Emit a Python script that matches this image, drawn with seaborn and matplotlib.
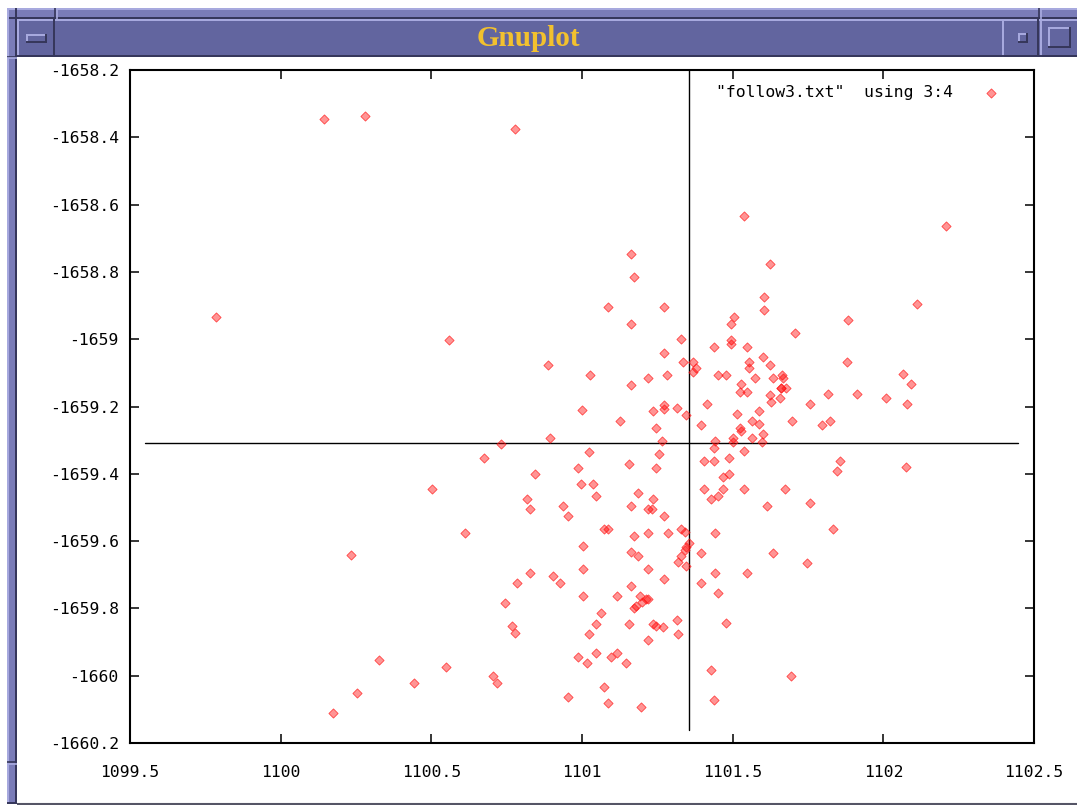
import matplotlib
matplotlib.use("Agg")
import matplotlib.pyplot as plt
from matplotlib.patches import Rectangle
import pandas as pd
import seaborn as sns

# Columns 3 and 4 of follow3.txt
col3 = [
    1100.144, 1100.280, 1100.778, 1099.785, 1100.559, 1100.887, 1101.027, 1101.000,
    1100.894, 1100.731, 1100.233, 1102.208, 1101.538, 1101.624, 1102.112, 1101.883,
    1102.065, 1102.092, 1101.913, 1102.009, 1102.079, 1102.075, 1101.694, 1101.604,
    1101.604, 1101.504, 1101.494, 1101.707, 1101.163, 1101.173, 1101.086, 1101.272,
    1101.163, 1101.329,
    1101.272, 1101.335, 1101.368, 1101.378, 1101.368, 1101.438, 1101.494, 1101.494,
    1101.548, 1101.601, 1101.554, 1101.554, 1101.624, 1101.879, 1101.451, 1101.478,
    1101.574, 1101.634, 1101.664, 1101.667, 1101.163, 1101.219, 1101.282, 1101.528,
    1101.524, 1101.548, 1101.660, 1101.660, 1101.677, 1101.624, 1101.627, 1101.657,
    1101.816, 1101.757, 1101.126, 1101.236, 1101.272, 1101.272, 1101.315, 1101.345,
    1101.415, 1101.246, 1101.395, 1101.514, 1101.587, 1101.564, 1101.587, 1101.524,
    1101.528, 1101.601, 1101.697, 1101.796, 1101.823, 1101.266, 1101.441, 1101.438,
    1101.501, 1101.501, 1101.564, 1101.597, 1101.256, 1101.156, 1101.246, 1101.405,
    1101.438, 1101.488, 1101.538, 1101.468, 1101.488, 1101.856, 1101.846,
    1100.675, 1101.023, 1100.844, 1100.987, 1100.502, 1100.997, 1101.037, 1101.046,
    1101.186, 1100.817, 1100.827, 1100.937, 1100.954, 1101.163, 1101.236, 1101.219,
    1101.232, 1101.272, 1101.405, 1101.428, 1101.451, 1101.468, 1100.612, 1101.073,
    1101.086, 1101.173, 1101.219, 1101.285, 1101.329, 1101.342, 1101.441, 1101.003,
    1101.163, 1101.186, 1101.355, 1101.345, 1101.342, 1101.395, 1101.329, 1101.319,
    1101.345, 1101.003, 1101.219, 1100.827, 1100.784, 1100.904, 1100.927, 1101.272,
    1101.441, 1101.395, 1101.163, 1101.451, 1100.744, 1101.003, 1101.116, 1101.192,
    1101.219, 1101.212, 1101.199, 1101.179, 1101.173, 1101.063, 1101.046, 1101.156,
    1101.236, 1101.246, 1101.269, 1101.315, 1101.319, 1101.023, 1101.219, 1100.768,
    1100.778,
    1101.538, 1101.674, 1101.614, 1101.757, 1101.833, 1101.634, 1101.747, 1101.548,
    1100.326, 1100.549, 1100.442, 1100.253, 1100.174, 1100.705, 1100.718, 1100.954,
    1100.987,
    1101.017, 1101.046, 1101.096, 1101.116, 1101.146, 1101.073, 1101.086, 1101.196,
    1101.428, 1101.438, 1101.478,
]
col4 = [
    -1658.346, -1658.337, -1658.375, -1658.934, -1659.002, -1659.077, -1659.106, -1659.210,
    -1659.294, -1659.311, -1659.641, -1658.664, -1658.634, -1658.777, -1658.895, -1658.943,
    -1659.103, -1659.133, -1659.163, -1659.175, -1659.193, -1659.380, -1660.001, -1658.875,
    -1658.913, -1658.934, -1658.955, -1658.982, -1658.747, -1658.815, -1658.904, -1658.904,
    -1658.955, -1658.999,
    -1659.041, -1659.068, -1659.068, -1659.086, -1659.098, -1659.023, -1659.002, -1659.014,
    -1659.023, -1659.053, -1659.068, -1659.086, -1659.077, -1659.068, -1659.106, -1659.106,
    -1659.115, -1659.115, -1659.106, -1659.115, -1659.136, -1659.115, -1659.106, -1659.133,
    -1659.157, -1659.157, -1659.145, -1659.145, -1659.145, -1659.166, -1659.187, -1659.175,
    -1659.163, -1659.193, -1659.243, -1659.213, -1659.196, -1659.207, -1659.204, -1659.225,
    -1659.193, -1659.264, -1659.255, -1659.222, -1659.213, -1659.243, -1659.252, -1659.264,
    -1659.273, -1659.282, -1659.243, -1659.255, -1659.243, -1659.303, -1659.303, -1659.323,
    -1659.294, -1659.306, -1659.294, -1659.306, -1659.341, -1659.371, -1659.383, -1659.362,
    -1659.362, -1659.353, -1659.332, -1659.410, -1659.401, -1659.362, -1659.392,
    -1659.353, -1659.335, -1659.401, -1659.383, -1659.445, -1659.430, -1659.430, -1659.466,
    -1659.457, -1659.475, -1659.505, -1659.496, -1659.525, -1659.496, -1659.475, -1659.505,
    -1659.505, -1659.525, -1659.445, -1659.475, -1659.466, -1659.445, -1659.576, -1659.564,
    -1659.564, -1659.585, -1659.576, -1659.576, -1659.564, -1659.573, -1659.576, -1659.615,
    -1659.632, -1659.644, -1659.606, -1659.618, -1659.626, -1659.635, -1659.644, -1659.662,
    -1659.674, -1659.683, -1659.683, -1659.695, -1659.725, -1659.704, -1659.725, -1659.713,
    -1659.695, -1659.725, -1659.733, -1659.754, -1659.784, -1659.763, -1659.763, -1659.763,
    -1659.772, -1659.772, -1659.781, -1659.793, -1659.799, -1659.814, -1659.846, -1659.846,
    -1659.846, -1659.852, -1659.855, -1659.835, -1659.876, -1659.876, -1659.894, -1659.852,
    -1659.873,
    -1659.445, -1659.445, -1659.496, -1659.487, -1659.564, -1659.635, -1659.665, -1659.695,
    -1659.953, -1659.974, -1660.022, -1660.051, -1660.111, -1660.001, -1660.022, -1660.063,
    -1659.944,
    -1659.962, -1659.933, -1659.944, -1659.933, -1659.962, -1660.034, -1660.081, -1660.093,
    -1659.983, -1660.072, -1659.843,
]

x_ticks = [1099.5, 1100, 1100.5, 1101, 1101.5, 1102, 1102.5]
y_ticks = [-1658.2, -1658.4, -1658.6, -1658.8, -1659, -1659.2, -1659.4,
           -1659.6, -1659.8, -1660, -1660.2]
x_range = (1099.5, 1102.5)
y_range = (-1660.2, -1658.2)

# ruler cross drawn over the data
ruler_x = 1101.355
ruler_y = -1659.3085
ruler_x_span = (1099.55, 1102.447)
ruler_y_span = (-1660.161, -1658.2)

series_label = '"follow3.txt"  using 3:4'
window_title = "Gnuplot"

W, H = 1077, 805
sns.set_theme(style="white")
plt.rcParams["font.family"] = ["DejaVu Sans Mono"]
plt.rcParams["axes.unicode_minus"] = False

fig = plt.figure(figsize=(W / 100, H / 100), dpi=100)
fig.patch.set_facecolor("white")

# ---- window decoration (pixel coordinates, y downwards) ----
deco = fig.add_axes([0, 0, 1, 1], zorder=-5)
deco.set_xlim(0, W)
deco.set_ylim(H, 0)
deco.axis("off")

TB = "#62659f"
MID = "#7a7cb8"
LIGHT = "#a9abe0"
DARK = "#35365a"


def box(x0, y0, x1, y1, fc, ec="none", lw=0):
    deco.add_patch(Rectangle((x0, y0), x1 - x0, y1 - y0, facecolor=fc,
                             edgecolor=ec, linewidth=lw))


def hline(y, x0, x1, c, lw=1.0):
    deco.plot([x0, x1], [y, y], color=c, lw=lw, solid_capstyle="butt")


def vline(x, y0, y1, c, lw=1.0):
    deco.plot([x, x], [y0, y1], color=c, lw=lw, solid_capstyle="butt")


def raised(x0, y0, x1, y1, fc):
    box(x0, y0, x1, y1, fc)
    hline(y0 + 1, x0, x1, LIGHT, 1.4)
    vline(x0 + 1, y0, y1, LIGHT, 1.4)
    hline(y1 - 1, x0, x1, DARK, 1.4)
    vline(x1 - 1, y0, y1, DARK, 1.4)


# outer frame
raised(7, 8, W + 2, 19, MID)
raised(7, 8, 17, 804, MID)
vline(55, 8, 19, DARK, 1.2)
vline(56.5, 8, 19, LIGHT, 1.2)
vline(1039, 8, 19, DARK, 1.2)
vline(1040.5, 8, 19, LIGHT, 1.2)
hline(57, 7, 17, DARK, 1.2)
hline(58.5, 7, 17, LIGHT, 1.2)
hline(762, 7, 17, DARK, 1.2)
hline(763.5, 7, 17, LIGHT, 1.2)

# title bar with buttons
raised(17, 19, W + 2, 57, TB)
raised(17, 19, 55, 57, TB)
raised(26, 34, 47, 43, TB)
raised(1002, 19, 1039, 57, TB)
raised(1018, 33, 1028, 43, TB)
raised(1040, 19, W + 2, 57, TB)
raised(1048, 27, 1071, 48, TB)
deco.text(528, 38, window_title, ha="center", va="center", color="#f2c12e",
          fontsize=21, fontweight="bold", family="Liberation Serif")

# bottom edge of the client area
hline(803.5, 17, W, "#555566", 1.5)

# ---- plot ----
ax = fig.add_axes([130 / W, 1 - 743 / H, 904 / W, 673 / H])
ax.set_facecolor("white")

df = pd.DataFrame({"col3": col3, "col4": col4})
sns.scatterplot(data=df, x="col3", y="col4", ax=ax, marker="D", s=22,
                color=(1.0, 0.0, 0.0, 0.42), edgecolor=(1.0, 0.1, 0.1, 0.75),
                linewidth=0.6, label=series_label, zorder=3)

ax.plot([ruler_x, ruler_x], ruler_y_span, color="black", lw=1.0, zorder=2)
ax.plot(ruler_x_span, [ruler_y, ruler_y], color="black", lw=1.0, zorder=2)

ax.set_xlim(*x_range)
ax.set_ylim(*y_range)
ax.set_xticks(x_ticks)
ax.set_yticks(y_ticks)
ax.set_xticklabels([format(v, "g") for v in x_ticks])
ax.set_yticklabels([format(v, "g") for v in y_ticks])
ax.set_xlabel("")
ax.set_ylabel("")

for sp in ax.spines.values():
    sp.set_visible(True)
    sp.set_color("black")
    sp.set_linewidth(1.5)

ax.tick_params(axis="both", which="both", direction="in", length=6.5, width=1.1,
               top=True, right=True, bottom=True, left=True, colors="black",
               labelsize=11.8, labelcolor="black")
ax.tick_params(axis="y", pad=8)
ax.tick_params(axis="x", pad=16)

leg = ax.legend(loc="upper right", bbox_to_anchor=(0.961, 0.978), markerfirst=False,
                frameon=False, borderpad=0, borderaxespad=0, handlelength=1.0,
                handletextpad=1.8, prop={"family": "DejaVu Sans Mono", "size": 11.8})
for t in leg.get_texts():
    t.set_color("black")

fig.savefig("out.png", dpi=100)
